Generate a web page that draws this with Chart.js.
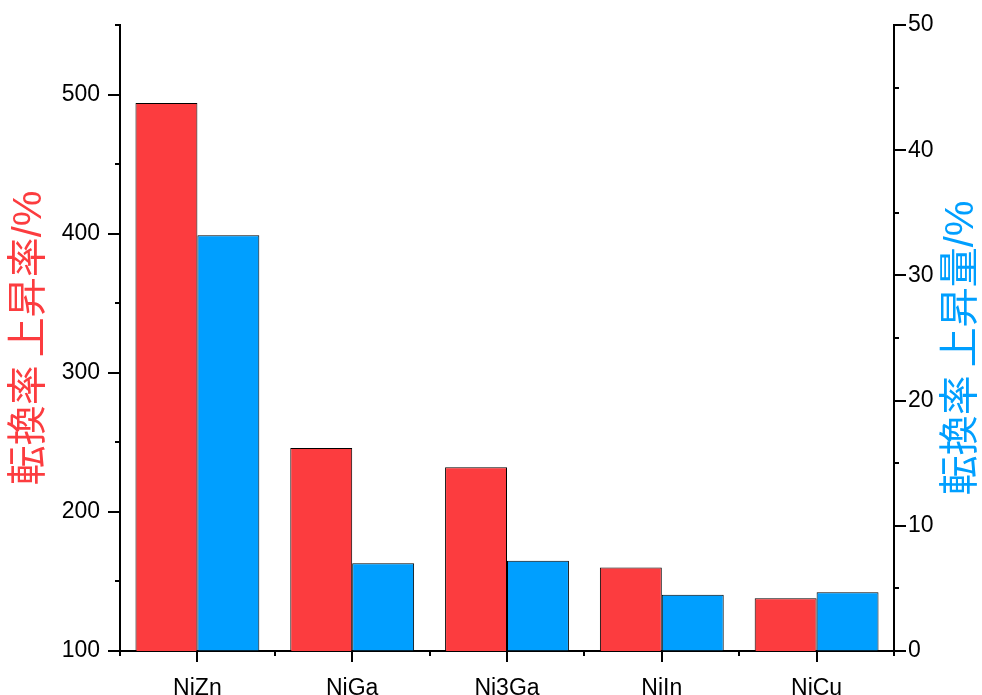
<!DOCTYPE html>
<html>
<head>
<meta charset="utf-8">
<script src="https://cdn.jsdelivr.net/npm/chart.js@4/dist/chart.umd.min.js"></script>
<style>
  html, body { margin: 0; padding: 0; background: #ffffff; }
  #wrap { width: 982px; height: 695px; }
</style>
</head>
<body>
<div id="wrap"><canvas id="c"></canvas></div>
<script>
// Catalysts on the category axis
const categories = ['NiZn', 'NiGa', 'Ni3Ga', 'NiIn', 'NiCu'];
// Conversion-rate increase ratio (left axis, %)
const rateIncrease = [494, 246, 232, 160, 138];
// Conversion-rate increase amount (right axis, %)
const amountIncrease = [33.2, 7.0, 7.2, 4.5, 4.7];
// Axis ranges: [min, max, major step, minor step]
const leftRange = [100, 550, 100, 50];
const rightRange = [0, 50, 10, 5];
// Axis titles
const leftTitle = '転換率\u2009上昇率/%';
const rightTitle = '転換率\u2009上昇量/%';

const RED = '#FC3C3F';
const BLUE = '#009FFF';
const TICK_FONT = { family: "'Liberation Sans', Arial, sans-serif", size: 23 };
const TITLE_FAMILY = "'Liberation Sans', 'Noto Sans CJK JP', sans-serif";
const TITLE_SIZE = 40;

// Tick marks: left axis outward, right axis inward, long majors and short minors
const tickMarks = {
  id: 'tickMarks',
  afterDraw(chart) {
    const ctx = chart.ctx;
    const { x, y, y1 } = chart.scales;
    ctx.save();
    ctx.strokeStyle = '#000';
    ctx.lineWidth = 2;
    const seg = (ax, ay, bx, by) => {
      ctx.beginPath(); ctx.moveTo(ax, ay); ctx.lineTo(bx, by); ctx.stroke();
    };
    y.ticks.forEach(t => {
      const p = Math.round(y.getPixelForValue(t.value));
      const len = (t.value - leftRange[0]) % leftRange[2] === 0 ? 12 : 5;
      seg(y.right - len, p, y.right, p);
    });
    y1.ticks.forEach(t => {
      const p = Math.round(y1.getPixelForValue(t.value));
      const len = (t.value - rightRange[0]) % rightRange[2] === 0 ? 12 : 5;
      seg(y1.left, p, y1.left + len, p);
    });
    for (let i = 0; i < categories.length; i++) {
      const p = Math.round(x.getPixelForValue(i));
      seg(p, x.top, p, x.top + 11);
    }
    for (let i = 0; i <= categories.length; i++) {
      const p = Math.round(x.getPixelForValue(i - 0.5));
      seg(p, x.top, p, x.top + 5);
    }

    // Right-hand title, reading bottom to top like the left one
    ctx.fillStyle = BLUE;
    ctx.font = TITLE_SIZE + 'px ' + TITLE_FAMILY;
    ctx.textAlign = 'center';
    ctx.textBaseline = 'middle';
    ctx.translate(y1.right - 20, (chart.chartArea.top + chart.chartArea.bottom) / 2 + 10);
    ctx.rotate(-Math.PI / 2);
    ctx.fillText(rightTitle, 0, 0);
    ctx.restore();
  }
};

// Fixed axis boxes so the plot area sits at the same place every time
const fixBox = (w, h) => s => {
  if (w !== null) s.width = w;
  if (h !== null) s.height = h;
  s.paddingTop = 0; s.paddingBottom = 0;
  s.paddingLeft = 0; s.paddingRight = 0;
};

new Chart(document.getElementById('c'), {
  type: 'bar',
  data: {
    labels: categories,
    datasets: [
      {
        data: rateIncrease,
        yAxisID: 'y',
        backgroundColor: RED,
        borderColor: '#000',
        borderWidth: 1,
        barPercentage: 1.0,
        categoryPercentage: 0.8
      },
      {
        data: amountIncrease,
        yAxisID: 'y1',
        backgroundColor: BLUE,
        borderColor: '#000',
        borderWidth: 1,
        barPercentage: 1.0,
        categoryPercentage: 0.8
      }
    ]
  },
  options: {
    responsive: true,
    maintainAspectRatio: false,
    animation: false,
    layout: { padding: { top: 25, left: 0, right: 0, bottom: 0 } },
    plugins: { legend: { display: false }, tooltip: { enabled: false } },
    scales: {
      x: {
        offset: true,
        grid: { display: true, drawOnChartArea: false, drawTicks: false, offset: false },
        border: { display: true, color: '#000', width: 2 },
        ticks: { color: '#000', font: TICK_FONT, padding: 24, maxRotation: 0 },
        afterFit: fixBox(null, 44)
      },
      y: {
        position: 'left',
        min: leftRange[0],
        max: leftRange[1],
        grid: { display: true, drawOnChartArea: false, drawTicks: false },
        border: { display: true, color: '#000', width: 2 },
        ticks: {
          stepSize: leftRange[3],
          color: '#000',
          font: TICK_FONT,
          padding: 20,
          callback: v => ((v - leftRange[0]) % leftRange[2] === 0 ? String(v) : '')
        },
        title: {
          display: true,
          text: leftTitle,
          color: RED,
          font: { family: TITLE_FAMILY, size: TITLE_SIZE, lineHeight: 1 },
          padding: { top: 10, bottom: 0 }
        },
        afterFit: fixBox(120, null)
      },
      y1: {
        position: 'right',
        min: rightRange[0],
        max: rightRange[1],
        grid: { display: true, drawOnChartArea: false, drawTicks: false },
        border: { display: true, color: '#000', width: 2 },
        ticks: {
          stepSize: rightRange[3],
          color: '#000',
          font: TICK_FONT,
          padding: 14,
          callback: v => ((v - rightRange[0]) % rightRange[2] === 0 ? String(v) : '')
        },
        afterFit: fixBox(88, null)
      }
    }
  },
  plugins: [tickMarks]
});
</script>
</body>
</html>
